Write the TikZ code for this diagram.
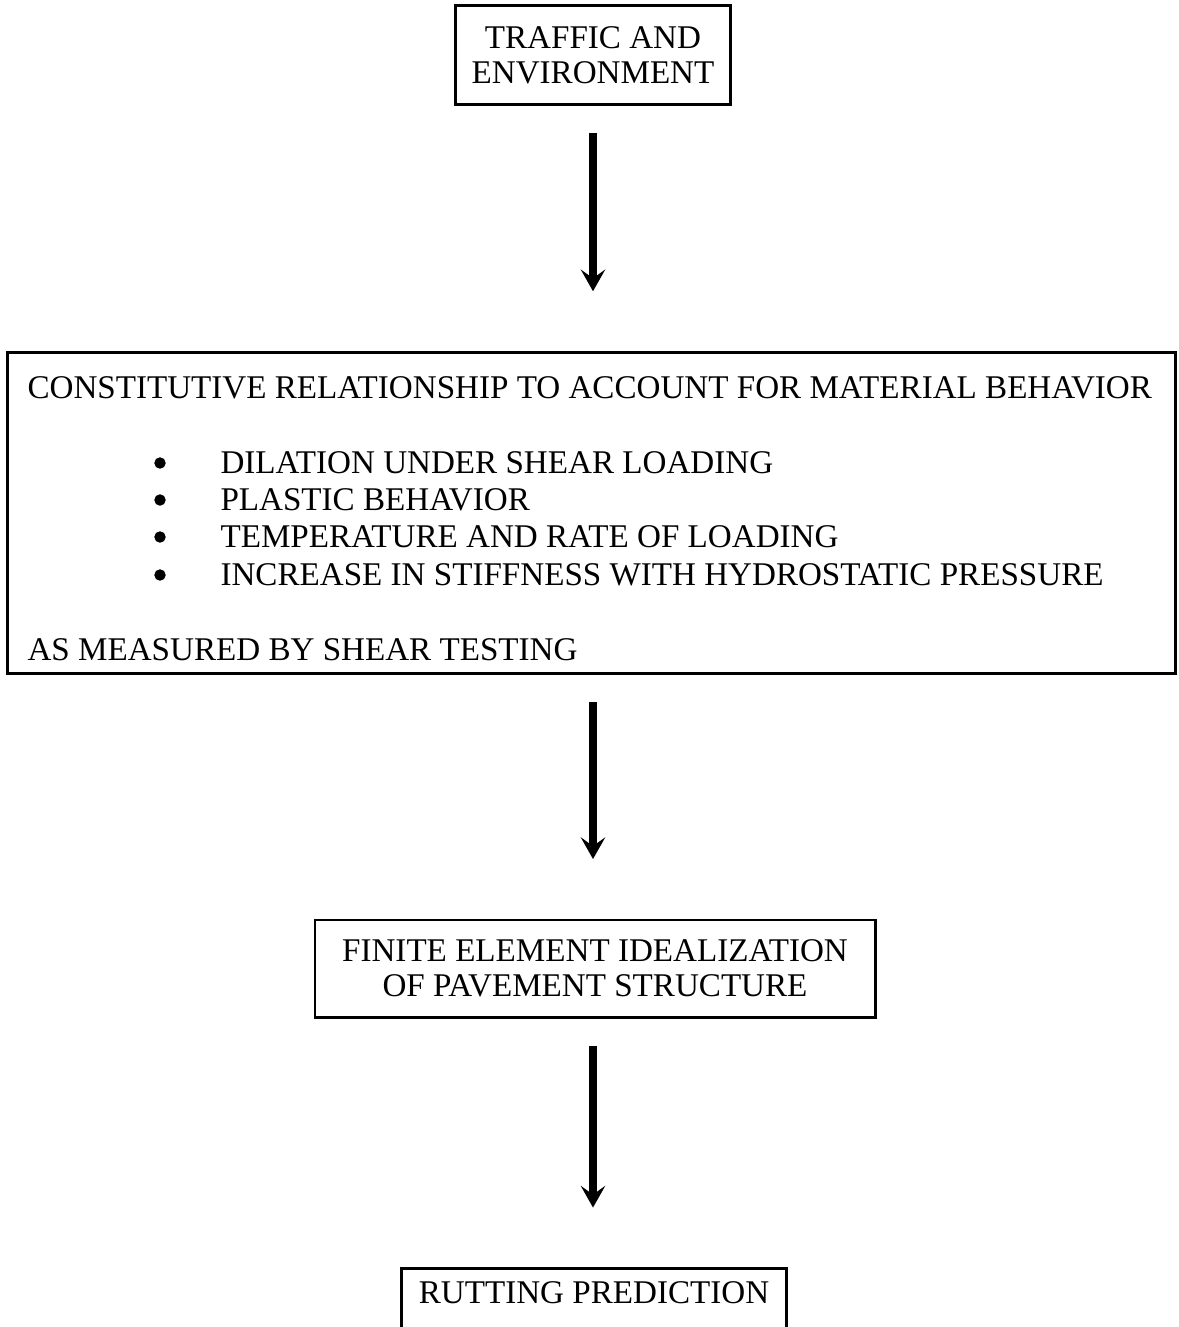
\documentclass[tikz,border=0pt]{standalone}
\usepackage{fontspec}
\setmainfont{Liberation Serif}
\usepackage{tikz}
\usetikzlibrary{arrows.meta}
\tikzset{
boxnodev1/.style={rectangle, draw=black!100,fill=none,line width=1.1pt, inner sep=0pt, align=center, font=\fontsize{12.25}{12.8}\selectfont},
textnodev1/.style={rectangle, draw=none, inner sep=0pt, anchor=west, font=\fontsize{12.25}{12.8}\selectfont},
bulletnodev1/.style={circle, draw=black!100,fill=black!100, inner sep=0pt, minimum size= 3.8pt},
flowarrowv1/.style={line width=2.6pt, -{Stealth[length=8pt,width=9pt,inset=3.2pt]}, shorten <= 10pt, shorten >= 22pt},
}
\begin{document}
\begin{tikzpicture}[x=0.37pt,y=-0.37pt]
    \useasboundingbox (0,0) rectangle (1178,1327);
    \node[boxnodev1, minimum width = 102pt, minimum height = 36.3pt] at (593,55) (traffic) {TRAFFIC AND\\ENVIRONMENT};
    \node[boxnodev1, minimum width = 431.8pt, minimum height = 119pt] at (591.5,513) (model) {};
    \node[textnodev1] at (27,388) (heading) {CONSTITUTIVE RELATIONSHIP TO ACCOUNT FOR MATERIAL BEHAVIOR};
    \node[bulletnodev1] at (160,463) (b1) {};
    \node[bulletnodev1] at (160,500) (b2) {};
    \node[bulletnodev1] at (160,537) (b3) {};
    \node[bulletnodev1] at (160,575) (b4) {};
    \node[textnodev1] at (220,463) (dilation) {DILATION UNDER SHEAR LOADING};
    \node[textnodev1] at (220,500) (plastic) {PLASTIC BEHAVIOR};
    \node[textnodev1] at (220,537) (temperature) {TEMPERATURE AND RATE OF LOADING};
    \node[textnodev1] at (220,575) (stiffness) {INCREASE IN STIFFNESS WITH HYDROSTATIC PRESSURE};
    \node[textnodev1] at (27,650) (measured) {AS MEASURED BY SHEAR TESTING};
    \node[boxnodev1, minimum width = 207.2pt, minimum height = 35.9pt] at (595,968.5) (fem) {FINITE ELEMENT IDEALIZATION\\OF PAVEMENT STRUCTURE};
    \node[boxnodev1, anchor = north, minimum width = 142.8pt, inner ysep = 4.8pt, text height = 8.1pt, text depth = 12pt] at (594,1267) (rutting) {RUTTING PREDICTION};
    \draw[flowarrowv1] (traffic.south) to (traffic.south |- model.north);
    \draw[flowarrowv1] (model.south -| traffic.south) to (traffic.south |- fem.north);
    \draw[flowarrowv1] (fem.south -| traffic.south) to (traffic.south |- rutting.north);
    \end{tikzpicture}
\end{document}
